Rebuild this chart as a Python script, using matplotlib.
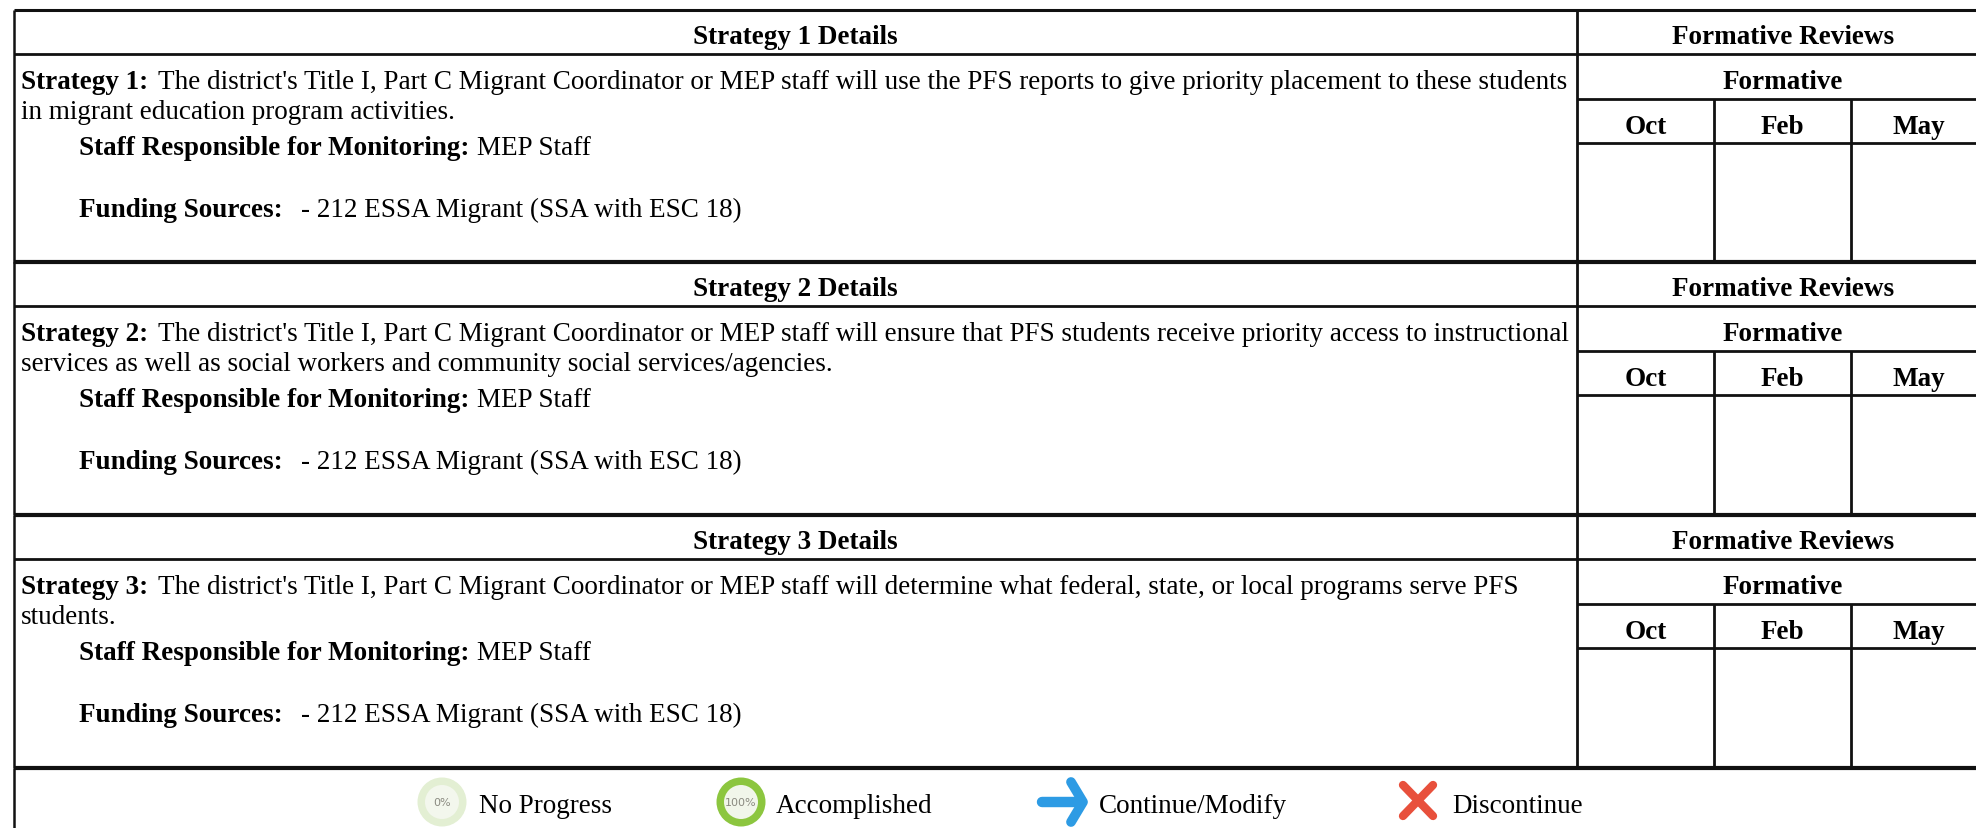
import matplotlib
matplotlib.use('Agg')
import matplotlib.pyplot as plt
from matplotlib.patches import Circle

plt.rcParams['font.family'] = ['Liberation Serif', 'DejaVu Serif']

# table content
strategy_nums = [1, 2, 3]
strategy_lines = [
    ["The district's Title I, Part C Migrant Coordinator or MEP staff will use the PFS reports to give priority placement to these students",
     "in migrant education program activities."],
    ["The district's Title I, Part C Migrant Coordinator or MEP staff will ensure that PFS students receive priority access to instructional",
     "services as well as social workers and community social services/agencies."],
    ["The district's Title I, Part C Migrant Coordinator or MEP staff will determine what federal, state, or local programs serve PFS",
     "students."],
]
staff = "MEP Staff"
funding = "- 212 ESSA Migrant (SSA with ESC 18)"
months = ['Oct', 'Feb', 'May']
legend_labels = ['No Progress', 'Accomplished', 'Continue/Modify', 'Discontinue']

W, H = 1976, 829
fs = 19.5
fig = plt.figure(figsize=(W/100, H/100), dpi=100)
ax = fig.add_axes([0, 0, 1, 1])
ax.set_xlim(0, W)
ax.set_ylim(H, 0)
ax.axis('off')

left = 14
right = W
split = 1577
cols = [1714, 1851]
block_tops = [11, 263, 516]
block_h = 253


def line(x0, y0, x1, y1, lw=2.0, c='#111111'):
    ax.plot([x0, x1], [y0, y1], color=c, lw=lw, solid_capstyle='butt')


def mixed(x, y, bold, normal, gap=10):
    # bold label followed by regular text on the same baseline
    t = ax.text(x, y, bold, fontsize=fs, fontweight='bold', va='baseline', ha='left')
    fig.canvas.draw()
    ext = t.get_window_extent()
    ax.text(ext.x1 + gap, y, normal, fontsize=fs, va='baseline', ha='left')


for i, top in enumerate(block_tops):
    # header and grid lines
    line(left, top, right, top, lw=2.2 if i == 0 else 3.0)
    line(left, top + 44, right, top + 44)
    line(split, top + 89, right, top + 89)
    line(split, top + 133, right, top + 133)
    line(left, top, left, top + block_h, lw=1.8)
    line(split, top, split, top + block_h)
    for c in cols:
        line(c, top + 89, c, top + block_h)

    ax.text((left + split) / 2, top + 33, 'Strategy %d Details' % strategy_nums[i],
            fontsize=fs, fontweight='bold', ha='center', va='baseline')
    ax.text((split + right) / 2 + 7, top + 33, 'Formative Reviews',
            fontsize=fs, fontweight='bold', ha='center', va='baseline')
    ax.text((split + right) / 2 + 6, top + 78, 'Formative',
            fontsize=fs, fontweight='bold', ha='center', va='baseline')
    for m, cx in zip(months, [1646, 1782, 1919]):
        ax.text(cx, top + 123, m, fontsize=fs, fontweight='bold', ha='center', va='baseline')

    mixed(21, top + 78, 'Strategy %d:' % strategy_nums[i], strategy_lines[i][0])
    ax.text(21, top + 108, strategy_lines[i][1], fontsize=fs, ha='left', va='baseline')
    mixed(79, top + 144, 'Staff Responsible for Monitoring:', staff, gap=8)
    mixed(79, top + 206, 'Funding Sources:', funding, gap=18)

# bottom rule and legend
line(left, 769, right, 769, lw=3.0)
line(left, 769, left, H, lw=1.8)

ax.add_patch(Circle((442, 803), 24.5, fc='#e3efd3', ec='none'))
ax.add_patch(Circle((442, 803), 17, fc='#f3f7ed', ec='none'))
ax.text(442, 803, '0%', fontsize=8, color='#8a8a80', ha='center', va='center', family='DejaVu Sans')
ax.text(479, 813, legend_labels[0], fontsize=fs, ha='left', va='baseline')

ax.add_patch(Circle((741, 803), 24.5, fc='#8cc63f', ec='none'))
ax.add_patch(Circle((741, 803), 17, fc='#f1f6ea', ec='none'))
ax.text(741, 803, '100%', fontsize=8, color='#8a8a80', ha='center', va='center', family='DejaVu Sans')
ax.text(776, 813, legend_labels[1], fontsize=fs, ha='left', va='baseline')

# arrow
ax.plot([1042, 1080], [803, 803], color='#2d9be4', lw=7.5, solid_capstyle='round')
ax.plot([1071, 1083, 1071], [783, 803, 823], color='#2d9be4', lw=7, solid_joinstyle='round', solid_capstyle='round')
ax.text(1099, 813, legend_labels[2], fontsize=fs, ha='left', va='baseline')

# cross
ax.plot([1403, 1433], [786, 817], color='#e8503c', lw=6, solid_capstyle='round')
ax.plot([1433, 1403], [786, 817], color='#e8503c', lw=6, solid_capstyle='round')
ax.text(1452, 813, legend_labels[3], fontsize=fs, ha='left', va='baseline')

fig.savefig('out.png', dpi=100)
